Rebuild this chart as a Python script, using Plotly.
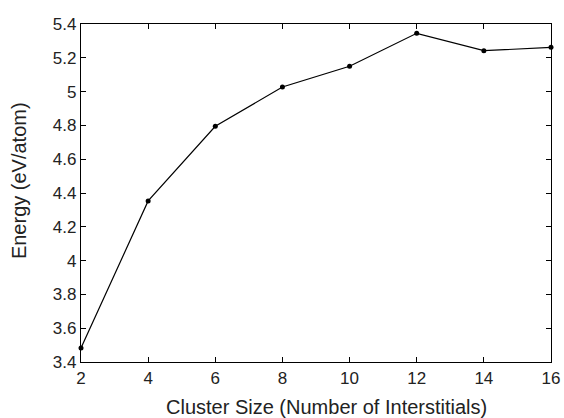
import plotly.graph_objects as go

# Cluster size (number of interstitials) and formation energy per atom
cluster_size = [2, 4, 6, 8, 10, 12, 14, 16]
energy = [3.483, 4.353, 4.795, 5.027, 5.150, 5.345, 5.242, 5.262]

x_range = [2, 16]
y_range = [3.4, 5.4]

x_title = "Cluster Size (Number of Interstitials)"
y_title = "Energy (eV/atom)"

fig = go.Figure()
fig.add_trace(go.Scatter(
    x=cluster_size,
    y=energy,
    mode="lines+markers",
    line=dict(color="black", width=1.2),
    marker=dict(color="black", size=5),
    cliponaxis=False,
    showlegend=False,
))

font_family = "Liberation Sans, Arial, Helvetica, sans-serif"
text_color = "#222"

axis_common = dict(
    showline=True,
    linecolor="black",
    linewidth=1.2,
    mirror="allticks",
    ticks="inside",
    ticklen=5,
    tickwidth=1,
    tickcolor="black",
    showgrid=False,
    zeroline=False,
    automargin=False,
    tickfont=dict(family=font_family, size=17, color=text_color),
)

fig.update_xaxes(range=x_range, tick0=2, dtick=2, **axis_common)
fig.update_yaxes(range=y_range, tick0=3.4, dtick=0.2, **axis_common)

# Axis titles placed as annotations relative to the plotting area
title_font = dict(family=font_family, size=20, color=text_color)
fig.add_annotation(
    text=x_title, xref="paper", yref="paper",
    x=0.523, y=-0.133, xanchor="center", yanchor="middle",
    showarrow=False, font=title_font,
)
fig.add_annotation(
    text=y_title, xref="paper", yref="paper",
    x=-0.132, y=0.538, xanchor="center", yanchor="middle",
    textangle=-90, showarrow=False, font=title_font,
)

fig.update_layout(
    width=564,
    height=418,
    margin=dict(l=81, r=13, t=24, b=56),
    plot_bgcolor="white",
    paper_bgcolor="white",
)

fig.write_html("out.html")
